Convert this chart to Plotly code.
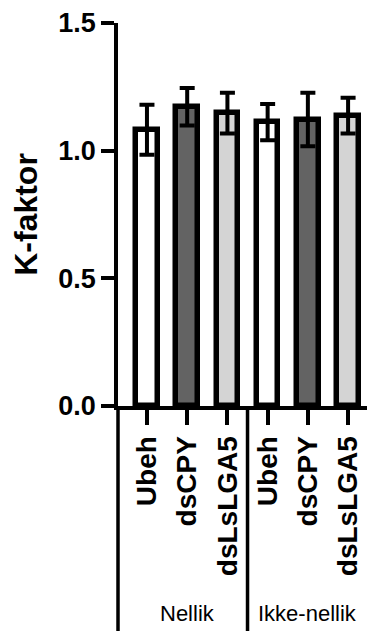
import plotly.graph_objects as go

# ---- data ----
categories = ["Ubeh", "dsCPY", "dsLsLGA5", "Ubeh", "dsCPY", "dsLsLGA5"]
groups = ["Nellik", "Ikke-nellik"]
group_sizes = [3, 3]
means = [1.082, 1.172, 1.147, 1.112, 1.122, 1.137]
errors = [0.098, 0.073, 0.08, 0.071, 0.105, 0.07]
fills = ["#ffffff", "#636363", "#d4d4d4", "#ffffff", "#636363", "#d4d4d4"]
y_ticks = [0.0, 0.5, 1.0, 1.5]
y_ticklabels = ["0.0", "0.5", "1.0", "1.5"]
y_title = "K-faktor"

W, H = 367, 631
ML, MR, MT, MB = 118, 0, 23, 225
plot_h = H - MT - MB

xs = list(range(len(categories)))
FONT = "Liberation Sans, Arial, sans-serif"

fig = go.Figure()
fig.add_trace(go.Bar(
    x=xs, y=means, width=0.535,
    marker=dict(color=fills, line=dict(color="black", width=5.5)),
    error_y=dict(type="data", array=errors, visible=True, color="black",
                 thickness=4, width=7.5),
    showlegend=False,
))

fig.update_layout(
    width=W, height=H,
    margin=dict(l=ML, r=MR, t=MT, b=MB, pad=0),
    paper_bgcolor="white", plot_bgcolor="white",
    bargap=0,
    xaxis=dict(
        range=[-0.72, 5.47], tickmode="array", tickvals=xs, ticktext=categories,
        tickangle=-90, ticks="outside", ticklen=15, tickwidth=3.5, tickcolor="black",
        showline=True, linecolor="black", linewidth=4, showgrid=False, zeroline=False,
        tickfont=dict(family=FONT, size=28, color="black", weight="bold"),
        fixedrange=True,
    ),
    yaxis=dict(
        range=[0, 1.5], tickmode="array", tickvals=y_ticks, ticktext=y_ticklabels,
        ticks="outside", ticklen=13, tickwidth=3.5, tickcolor="black",
        showline=True, linecolor="black", linewidth=3.5, showgrid=False, zeroline=False,
        tickfont=dict(family=FONT, size=27, color="black", weight="bold"),
        title=dict(text=y_title, font=dict(family=FONT, size=32, color="black", weight="bold"), standoff=12),
    ),
)

# group separators and labels (computed from group sizes)
bottom = -MB / plot_h
start = 0
boundaries = [None]
for g, n in zip(groups, group_sizes):
    end = start + n
    center = (start + end - 1) / 2
    fig.add_annotation(x=center, y=-(613 - (H - MB)) / plot_h, xref="x", yref="paper",
                       text=g, showarrow=False, yanchor="middle",
                       font=dict(family=FONT, size=22, color="black"))
    if end < len(categories):
        boundaries.append(end - 0.5)
    start = end

for b in boundaries:
    if b is None:
        fig.add_shape(type="line", xref="paper", yref="paper", x0=0, x1=0, y0=0, y1=bottom,
                      line=dict(color="black", width=3.5))
    else:
        fig.add_shape(type="line", xref="x", yref="paper", x0=b, x1=b, y0=0, y1=bottom,
                      line=dict(color="black", width=3.5))

fig.write_html("out.html", config=dict(displayModeBar=False),
               post_script="document.body.style.margin='0';document.body.style.overflow='hidden';")
